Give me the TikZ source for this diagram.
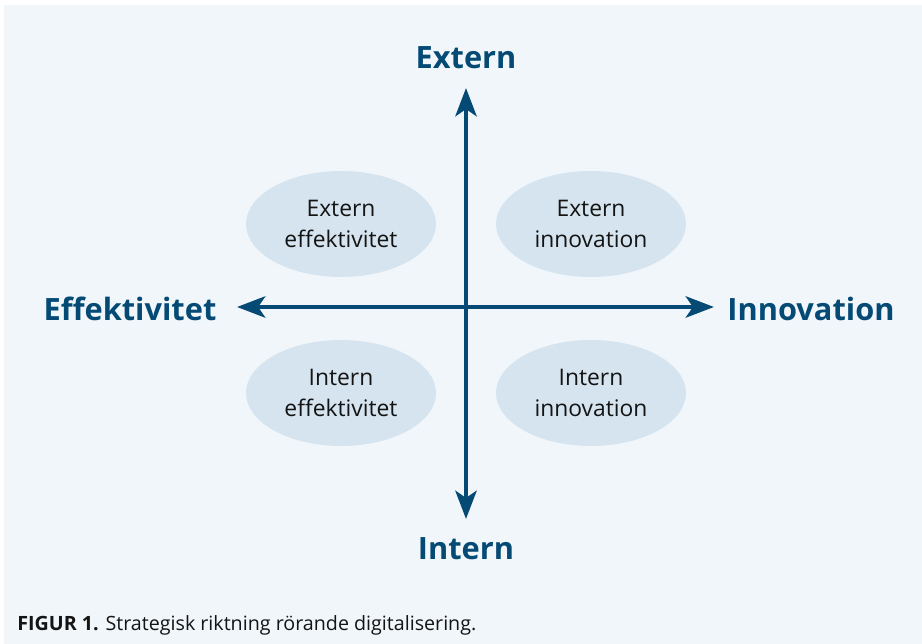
\documentclass[tikz,border=0pt]{standalone}
\usepackage{fontspec}
\setmainfont{Open Sans}
\usetikzlibrary{arrows.meta,shapes.geometric}

\definecolor{axisblue}{RGB}{4,74,117}
\definecolor{ovalfill}{RGB}{213,228,238}
\definecolor{panelbg}{RGB}{241,246,250}
\definecolor{captext}{RGB}{20,20,20}

\begin{document}
\begin{tikzpicture}[
		x=0.02cm, y=-0.02cm,
		oval/.style={
			ellipse,
			fill=ovalfill,
			align=center,
			minimum width=3.8cm,
			minimum height=2.12cm,
			inner sep=0pt,
			font=\fontsize{13}{17.8}\selectfont,
			text=captext
		},
		axislabel/.style={
			text=axisblue,
			font=\fontsize{17.5}{20}\selectfont\bfseries
		},
		axis/.style={
			draw=axisblue,
			line width=2.8pt,
			{Stealth[length=16pt,width=12pt,inset=4pt]}-{Stealth[length=16pt,width=12pt,inset=4pt]}
		}
		]
		
		% Page and panel
		\useasboundingbox (0,0) rectangle (922,644);
		\fill[panelbg] (4,5) rectangle (922,644);
		
		% Axis end points
		\coordinate (top) at (466,88);
		\coordinate (bottom) at (466,519);
		\coordinate (left) at (237,307);
		\coordinate (right) at (714,307);
		
		% Quadrant ovals
		\node[oval] (extEff) at (341,224) {Extern\\effektivitet};
		\node[oval] (extInn) at (591,224) {Extern\\innovation};
		\node[oval] (intEff) at (341,393) {Intern\\effektivitet};
		\node[oval] (intInn) at (591,393) {Intern\\innovation};
		
		% Axes
		\draw[axis] (bottom) -- (top);
		\draw[axis] (left) -- (right);
		
		% Axis labels
		\node[axislabel] (extern) at (466,58) {Extern};
		\node[axislabel] (intern) at (466,549) {Intern};
		\node[axislabel] (effekt) at (130,309) {Effektivitet};
		\node[axislabel] (innov) at (811,309) {Innovation};
		
		% Caption
		\node[anchor=base west, inner sep=0pt, text=captext,
			font=\fontsize{11.2}{13}\selectfont] (caption) at (17,630)
			{\textbf{FIGUR 1.} Strategisk riktning rörande digitalisering.};
		
	\end{tikzpicture}
\end{document}
